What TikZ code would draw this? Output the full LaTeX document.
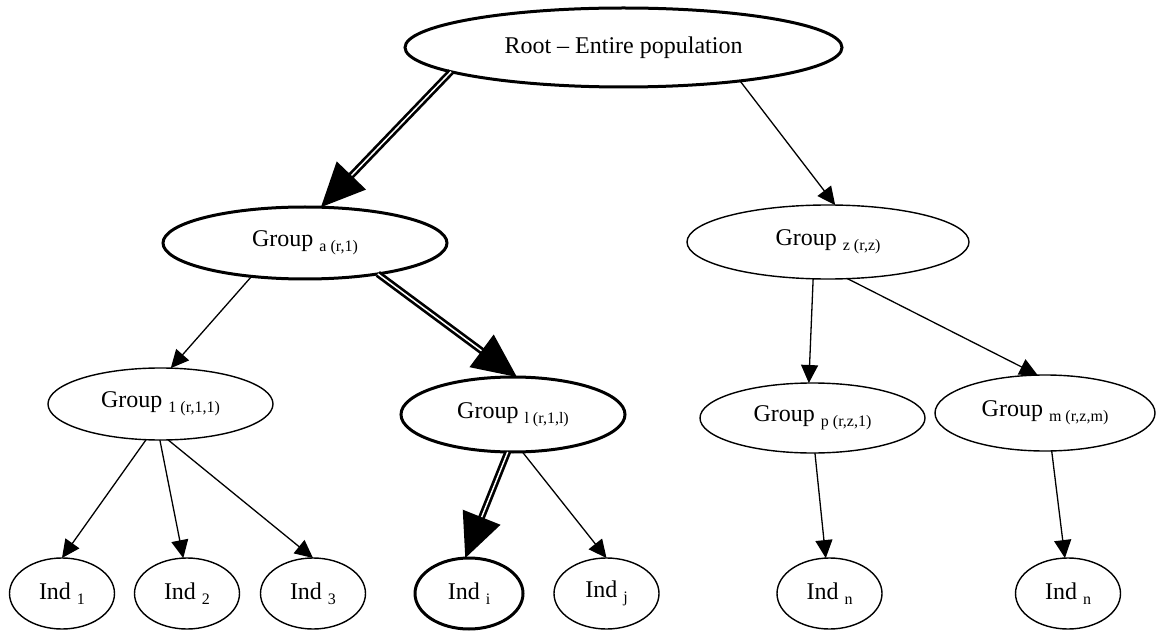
\documentclass[tikz,border=0pt]{standalone}
\usepackage{fontspec}
\setmainfont{Liberation Serif}
\usetikzlibrary{shapes.geometric, arrows.meta}
\newcommand{\lsub}[1]{\raisebox{-5pt}{\fontsize{16}{16}\selectfont #1}}
\tikzset{
    grp/.style={
        ellipse, draw, line width=1.4pt, inner sep=0pt, outer sep=0pt,
        font=\fontsize{24}{26}\selectfont
    },
    hot/.style={
        grp, line width=3pt
    },
    ind/.style={
        grp, minimum width=105pt, minimum height=71pt
    },
    mm/.style={
        line width=1.3pt, -{Triangle[length=18pt, width=17pt]}
    },
    dd/.style={
        line width=2.7pt, double=white, double distance=1.5pt,
        -{Triangle[length=44pt, width=40pt]}
    }
}
\begin{document}
\begin{tikzpicture}[x=1pt, y=1pt]
        \useasboundingbox (0,0) rectangle (1156,630);

        \node[hot, minimum width=437pt, minimum height=79pt] (root) at (623.5,582.5) {Root -- Entire population};

        % Groups

        \node[hot, minimum width=284pt, minimum height=72pt] (ga) at (305,387)   {Group \lsub{a (r,1)}};
        \node[grp, minimum width=282pt, minimum height=74pt] (gz) at (828,388)   {Group \lsub{z (r,z)}};
        \node[grp, minimum width=225pt, minimum height=72pt] (g1) at (160.5,226) {Group \lsub{1 (r,1,1)}};
        \node[hot, minimum width=224pt, minimum height=75pt] (gl) at (513,215.5) {Group \lsub{l (r,1,l)}};
        \node[grp, minimum width=225pt, minimum height=70pt] (gp) at (812.5,212) {Group \lsub{p (r,z,1)}};
        \node[grp, minimum width=220pt, minimum height=76pt] (gm) at (1045,217)  {Group \lsub{m (r,z,m)}};

        % Individuals

        \node[ind] (ind1) at (62,36.5)   {Ind \lsub{1}};
        \node[ind] (ind2) at (187,36.5)  {Ind \lsub{2}};
        \node[ind] (ind3) at (313,36.5)  {Ind \lsub{3}};
        \node[ind, line width=3pt, minimum width=108pt] (indi) at (469,36.5) {Ind \lsub{i}};
        \node[ind] (indj) at (606.5,36.5) {Ind \lsub{j}};
        \node[ind] (indn) at (829.5,36.5) {Ind \lsub{n}};
        \node[ind] (indm) at (1068,36.5)  {Ind \lsub{n}};

        \path (root.188) edge[dd] (ga.66)
                (root.344) edge[mm] (gz.79)
                (ga.212) edge[mm] (g1.74)
                (ga.337) edge[dd] (gl.84)
                (gz.248) edge[mm] (gp.96)
                (gz.298) edge[mm] (gm.101);

        \path (g1.248) edge[mm] (ind1.north)
                (g1.269) edge[mm] (ind2.96)
                (g1.282) edge[mm] (ind3.north)
                (gl.262) edge[dd] (indi.96)
                (gl.284) edge[mm] (indj.north)
                (gp.274) edge[mm] (indn.96)
                (gm.280) edge[mm] (indm.95);
    \end{tikzpicture}
\end{document}
